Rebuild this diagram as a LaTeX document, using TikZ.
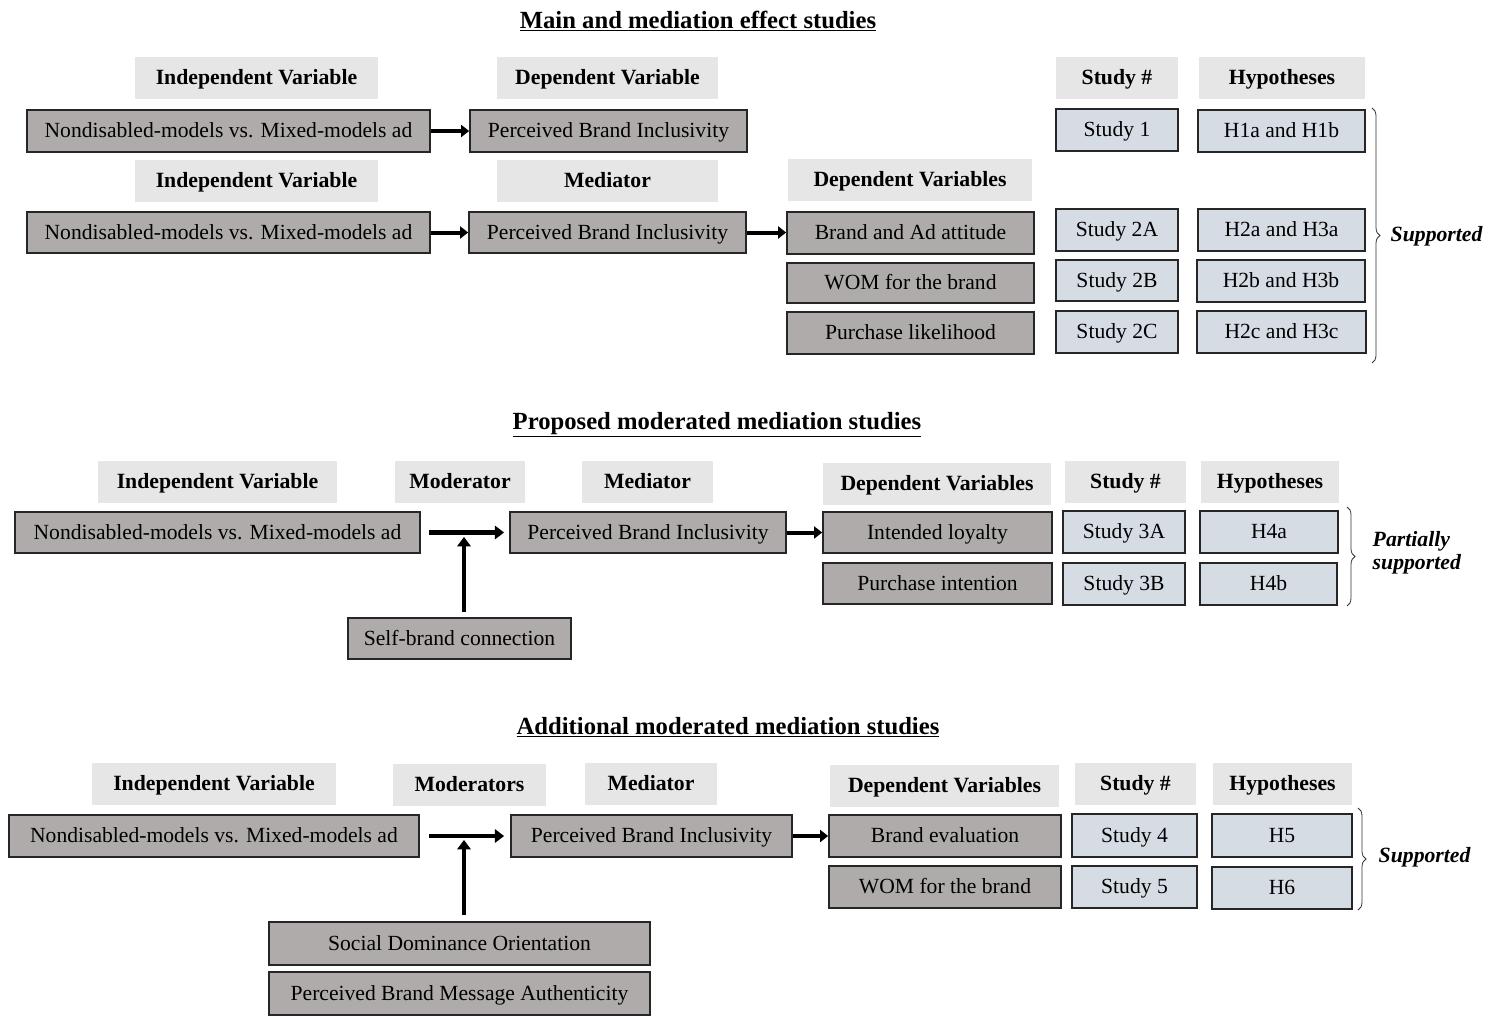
\documentclass[tikz,border=0pt]{standalone}
\usepackage{fontspec}
\setmainfont{Liberation Serif}
\usetikzlibrary{arrows.meta,decorations.pathreplacing}
\definecolor{gfill}{HTML}{AFABAB}
\definecolor{hfill}{HTML}{E7E6E6}
\definecolor{sfill}{HTML}{D6DCE4}
\newcommand\Bx[7]{\node[#6, minimum width={(#4-#2)*0.75pt}, minimum height={(#5-#3)*0.75pt}] (#1) at ({(#2+#4)/2},{(#3+#5)/2}) {#7};}
\begin{document}
\begin{tikzpicture}[x=0.75pt,y=-0.75pt,
  every node/.style={font=\fontsize{16.2}{18}\selectfont},
  base/.style={inner sep=0pt, text height=13pt, text depth=2.6pt},
  gbox/.style={base, draw=black!85, line width=1.3pt, fill=gfill},
  sbox/.style={base, draw=black!85, line width=1.3pt, fill=sfill},
  hbox/.style={base, fill=hfill, font=\fontsize{16.3}{18}\selectfont\bfseries},
  ttl/.style={font=\fontsize{18.5}{20}\selectfont\bfseries},
  arr/.style={line width=3pt, -{Triangle[length=6pt,width=9pt]}},
  marr/.style={line width=3.5pt, -{Triangle[length=7pt,width=10pt]}},
  brc/.style={decorate, decoration={brace, amplitude=6pt}, line width=0.6pt, draw=black!80},
  note/.style={font=\fontsize{16.3}{19}\selectfont\bfseries\itshape, align=left}]
\useasboundingbox (0,0) rectangle (1490,1021);
% ---------- Section 1
\node[ttl] (t1) at (698,21) {\underline{Main and mediation effect studies}};
\Bx{h1a}{135}{57}{378}{99}{hbox}{Independent Variable}
\Bx{h1b}{497}{57}{718}{99}{hbox}{Dependent Variable}
\Bx{h1c}{1056}{57}{1178}{99}{hbox}{Study \#}
\Bx{h1d}{1199}{57}{1365}{99}{hbox}{Hypotheses}
\Bx{iv1}{27}{110}{430}{152}{gbox}{Nondisabled-models vs. Mixed-models ad}
\Bx{dv1}{470}{110}{747}{152}{gbox}{Perceived Brand Inclusivity}
\Bx{s1}{1056}{109}{1178}{151}{sbox}{Study 1}
\Bx{hy1}{1198}{110}{1365}{152}{sbox}{H1a and H1b}
\draw[arr] (iv1.east) -- (dv1.west);

\Bx{h2a}{135}{160}{378}{202}{hbox}{Independent Variable}
\Bx{h2b}{497}{160}{718}{202}{hbox}{Mediator}
\Bx{h2c}{788}{159}{1032}{201}{hbox}{Dependent Variables}
\Bx{iv2}{27}{212}{430}{253}{gbox}{Nondisabled-models vs. Mixed-models ad}
\Bx{me2}{469}{212}{746}{253}{gbox}{Perceived Brand Inclusivity}
\Bx{d2a}{787}{212}{1034}{254}{gbox}{Brand and Ad attitude}
\Bx{d2b}{787}{263}{1034}{303}{gbox}{WOM for the brand}
\Bx{d2c}{787}{312}{1034}{354}{gbox}{Purchase likelihood}
\Bx{s2a}{1056}{209}{1178}{251}{sbox}{Study 2A}
\Bx{s2b}{1056}{260}{1178}{301}{sbox}{Study 2B}
\Bx{s2c}{1056}{311}{1178}{353}{sbox}{Study 2C}
\Bx{hy2a}{1198}{209}{1365}{251}{sbox}{H2a and H3a}
\Bx{hy2b}{1197}{260}{1365}{302}{sbox}{H2b and H3b}
\Bx{hy2c}{1197}{311}{1366}{353}{sbox}{H2c and H3c}
\draw[arr] (iv2.east) -- (me2.west);
\draw[arr] (me2.east) -- (me2.east -| d2a.west);
\coordinate (b1t) at (1372,108);
\coordinate (b1b) at (1372,363);
\draw[brc] (b1t) -- (b1b);
\node[note, anchor=west] (n1) at (1386,236) {Supported};

% ---------- Section 2
\node[ttl] (t2) at (717,425) {\underline{Proposed moderated mediation studies}};
\Bx{h3a}{98}{461}{337}{503}{hbox}{Independent Variable}
\Bx{h3b}{395}{461}{525}{503}{hbox}{Moderator}
\Bx{h3c}{582}{461}{713}{503}{hbox}{Mediator}
\Bx{h3d}{823}{463}{1051}{505}{hbox}{Dependent Variables}
\Bx{h3e}{1065}{461}{1186}{503}{hbox}{Study \#}
\Bx{h3f}{1201}{461}{1339}{503}{hbox}{Hypotheses}
\Bx{iv3}{15}{512}{420}{553}{gbox}{Nondisabled-models vs. Mixed-models ad}
\Bx{me3}{510}{512}{786}{553}{gbox}{Perceived Brand Inclusivity}
\Bx{d3a}{823}{512}{1052}{553}{gbox}{Intended loyalty}
\Bx{d3b}{823}{563}{1052}{604}{gbox}{Purchase intention}
\Bx{s3a}{1063}{511}{1185}{553}{sbox}{Study 3A}
\Bx{s3b}{1063}{563}{1185}{605}{sbox}{Study 3B}
\Bx{hy3a}{1200}{511}{1338}{553}{sbox}{H4a}
\Bx{hy3b}{1200}{563}{1337}{605}{sbox}{H4b}
\Bx{mo3}{348}{618}{571}{659}{gbox}{Self-brand connection}
\draw[marr, shorten <=8pt*0.75, shorten >=5pt*0.75] (iv3.east) -- (me3.west);
\coordinate (m3) at (464,537);
\draw[marr, shorten <=5pt*0.75] (mo3.north -| m3) -- (m3);
\draw[arr] (me3.east) -- (me3.east -| d3a.west);
\coordinate (b2t) at (1347,507);
\coordinate (b2b) at (1347,606);
\draw[brc] (b2t) -- (b2b);
\node[note, anchor=west] (n2) at (1368,553) {Partially\\[-2pt]supported};

% ---------- Section 3
\node[ttl] (t3) at (728,727) {\underline{Additional moderated mediation studies}};
\Bx{h4a}{92}{763}{336}{805}{hbox}{Independent Variable}
\Bx{h4b}{393}{764}{546}{806}{hbox}{Moderators}
\Bx{h4c}{585}{763}{717}{805}{hbox}{Mediator}
\Bx{h4d}{830}{765}{1059}{807}{hbox}{Dependent Variables}
\Bx{h4e}{1075}{763}{1196}{805}{hbox}{Study \#}
\Bx{h4f}{1213}{763}{1352}{805}{hbox}{Hypotheses}
\Bx{iv4}{9}{815}{419}{857}{gbox}{Nondisabled-models vs. Mixed-models ad}
\Bx{me4}{511}{815}{792}{857}{gbox}{Perceived Brand Inclusivity}
\Bx{d4a}{829}{815}{1061}{857}{gbox}{Brand evaluation}
\Bx{d4b}{829}{866}{1061}{908}{gbox}{WOM for the brand}
\Bx{s4a}{1072}{814}{1197}{857}{sbox}{Study 4}
\Bx{s4b}{1072}{866}{1197}{908}{sbox}{Study 5}
\Bx{hy4a}{1212}{814}{1352}{857}{sbox}{H5}
\Bx{hy4b}{1212}{867}{1352}{909}{sbox}{H6}
\Bx{mo4a}{269}{922}{650}{965}{gbox}{Social Dominance Orientation}
\Bx{mo4b}{269}{972}{650}{1015}{gbox}{Perceived Brand Message Authenticity}
\draw[marr, shorten <=9pt*0.75, shorten >=6pt*0.75] (iv4.east) -- (me4.west);
\coordinate (m4) at (464,840);
\draw[marr, shorten <=6pt*0.75] (mo4a.north -| m4) -- (m4);
\draw[arr] (me4.east) -- (me4.east -| d4a.west);
\coordinate (b3t) at (1358,808);
\coordinate (b3b) at (1358,910);
\draw[brc] (b3t) -- (b3b);
\node[note, anchor=west] (n3) at (1374,857) {Supported};
\end{tikzpicture}
\end{document}
